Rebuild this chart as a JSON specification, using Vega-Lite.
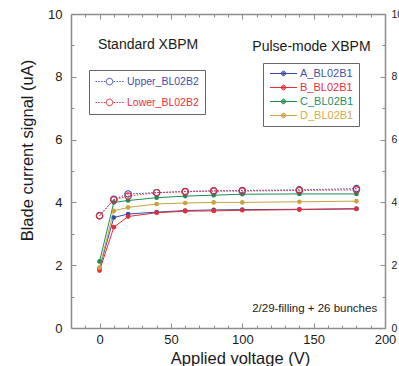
{
  "$schema": "https://vega.github.io/schema/vega-lite/v6.json",
  "width": 314,
  "height": 314,
  "autosize": "none",
  "padding": {"left": 71, "top": 14, "right": 14, "bottom": 38},
  "background": "white",
  "config": {
    "view": {"stroke": null},
    "font": "Liberation Sans",
    "axis": {
      "grid": false,
      "domainColor": "#8c8c8c",
      "domainWidth": 1.5,
      "tickColor": "#8c8c8c",
      "tickWidth": 1,
      "tickSize": -5,
      "labelFont": "Liberation Sans",
      "titleFont": "Liberation Sans",
      "labelColor": "#1a1a1a",
      "titleColor": "#1a1a1a",
      "titleFontWeight": "normal",
      "labelOverlap": false,
      "labelFlush": false,
      "labelBound": false
    },
    "legend": {
      "labelFont": "Liberation Sans",
      "labelFontSize": 11,
      "strokeColor": "#666666",
      "padding": 5,
      "labelOffset": 21,
      "symbolStrokeWidth": 1,
      "symbolSize": 100
    }
  },
  "datasets": {
    "pulse": [
      {"series": "A_BL02B1", "x": 0, "y": 1.9},
      {"series": "A_BL02B1", "x": 10, "y": 3.52},
      {"series": "A_BL02B1", "x": 20, "y": 3.63},
      {"series": "A_BL02B1", "x": 40, "y": 3.69},
      {"series": "A_BL02B1", "x": 60, "y": 3.74},
      {"series": "A_BL02B1", "x": 80, "y": 3.76},
      {"series": "A_BL02B1", "x": 100, "y": 3.77},
      {"series": "A_BL02B1", "x": 140, "y": 3.78},
      {"series": "A_BL02B1", "x": 180, "y": 3.8},
      {"series": "B_BL02B1", "x": 0, "y": 1.83},
      {"series": "B_BL02B1", "x": 10, "y": 3.21},
      {"series": "B_BL02B1", "x": 20, "y": 3.55},
      {"series": "B_BL02B1", "x": 40, "y": 3.67},
      {"series": "B_BL02B1", "x": 60, "y": 3.72},
      {"series": "B_BL02B1", "x": 80, "y": 3.73},
      {"series": "B_BL02B1", "x": 100, "y": 3.75},
      {"series": "B_BL02B1", "x": 140, "y": 3.77},
      {"series": "B_BL02B1", "x": 180, "y": 3.79},
      {"series": "C_BL02B1", "x": 0, "y": 2.12},
      {"series": "C_BL02B1", "x": 10, "y": 4.0},
      {"series": "C_BL02B1", "x": 20, "y": 4.06},
      {"series": "C_BL02B1", "x": 40, "y": 4.15},
      {"series": "C_BL02B1", "x": 60, "y": 4.2},
      {"series": "C_BL02B1", "x": 80, "y": 4.23},
      {"series": "C_BL02B1", "x": 100, "y": 4.26},
      {"series": "C_BL02B1", "x": 140, "y": 4.27},
      {"series": "C_BL02B1", "x": 180, "y": 4.27},
      {"series": "D_BL02B1", "x": 0, "y": 1.92},
      {"series": "D_BL02B1", "x": 10, "y": 3.73},
      {"series": "D_BL02B1", "x": 20, "y": 3.84},
      {"series": "D_BL02B1", "x": 40, "y": 3.95},
      {"series": "D_BL02B1", "x": 60, "y": 3.98},
      {"series": "D_BL02B1", "x": 80, "y": 4.0},
      {"series": "D_BL02B1", "x": 100, "y": 4.0},
      {"series": "D_BL02B1", "x": 140, "y": 4.02},
      {"series": "D_BL02B1", "x": 180, "y": 4.04}
    ],
    "standard": [
      {"series": "Upper_BL02B2", "x": 0, "y": 3.58},
      {"series": "Upper_BL02B2", "x": 10, "y": 4.1},
      {"series": "Upper_BL02B2", "x": 20, "y": 4.27},
      {"series": "Upper_BL02B2", "x": 40, "y": 4.31},
      {"series": "Upper_BL02B2", "x": 60, "y": 4.35},
      {"series": "Upper_BL02B2", "x": 80, "y": 4.37},
      {"series": "Upper_BL02B2", "x": 100, "y": 4.38},
      {"series": "Upper_BL02B2", "x": 140, "y": 4.4},
      {"series": "Upper_BL02B2", "x": 180, "y": 4.44},
      {"series": "Lower_BL02B2", "x": 0, "y": 3.57},
      {"series": "Lower_BL02B2", "x": 10, "y": 4.08},
      {"series": "Lower_BL02B2", "x": 20, "y": 4.2},
      {"series": "Lower_BL02B2", "x": 40, "y": 4.31},
      {"series": "Lower_BL02B2", "x": 60, "y": 4.34},
      {"series": "Lower_BL02B2", "x": 80, "y": 4.36},
      {"series": "Lower_BL02B2", "x": 100, "y": 4.36},
      {"series": "Lower_BL02B2", "x": 140, "y": 4.38},
      {"series": "Lower_BL02B2", "x": 180, "y": 4.4}
    ]
  },
  "layer": [
    {
      "data": {"name": "pulse"},
      "mark": {"type": "line", "strokeWidth": 1},
      "encoding": {
        "x": {
          "field": "x", "type": "quantitative",
          "scale": {"domain": [-20, 200], "nice": false, "zero": false},
          "axis": {
            "orient": "bottom",
            "title": "Applied voltage (V)",
            "values": [-10, 0, 10, 20, 30, 40, 50, 60, 70, 80, 90, 100, 110, 120, 130, 140, 150, 160, 170, 180, 190, 200],
            "format": "d",
            "labelExpr": "datum.value % 50 === 0 ? datum.label : ''",
            "tickDash": {"condition": {"test": "datum.value % 50 === 0", "value": [10, 0]}, "value": [3, 10]},
            "labelFontSize": 13,
            "labelPadding": 10,
            "titleFontSize": 16.5,
            "titleX": 169,
            "titleY": 30,
            "titleAlign": "center",
            "titleBaseline": "middle"
          }
        },
        "y": {
          "field": "y", "type": "quantitative",
          "scale": {"domain": [0, 10], "nice": false},
          "axis": {
            "orient": "left",
            "title": "Blade current signal (uA)",
            "values": [0, 0.5, 1, 1.5, 2, 2.5, 3, 3.5, 4, 4.5, 5, 5.5, 6, 6.5, 7, 7.5, 8, 8.5, 9, 9.5, 10],
            "format": "d",
            "labelExpr": "datum.value % 2 === 0 ? datum.label : ''",
            "tickDash": {"condition": {"test": "datum.value % 2 === 0", "value": [10, 0]}, "value": [3, 10]},
            "labelFontSize": 13,
            "labelPadding": 14,
            "labelBaseline": "middle",
            "titleFontSize": 16.5,
            "titleAngle": -90,
            "titleX": -44,
            "titleY": 136,
            "titleAlign": "center",
            "titleBaseline": "middle"
          }
        },
        "detail": {"field": "series"},
        "color": {
          "field": "series", "type": "nominal",
          "scale": {
            "domain": ["A_BL02B1", "B_BL02B1", "C_BL02B1", "D_BL02B1"],
            "range": ["#3a49a6", "#e62c36", "#1c8c52", "#c9a23e"]
          },
          "legend": {
            "orient": "none",
            "legendX": 192,
            "legendY": 49,
            "title": null,
            "symbolType": "M-0.7,0L4.7,0M1.86,0A0.14,0.14,0,1,1,2.14,0A0.14,0.14,0,1,1,1.86,0M1.7,0A0.3,0.3,0,1,1,2.3,0A0.3,0.3,0,1,1,1.7,0M1.54,0A0.46,0.46,0,1,1,2.46,0A0.46,0.46,0,1,1,1.54,0",
            "rowPadding": 2,
            "labelExpr": "datum.label + '\u00a0\u00a0\u00a0\u00a0'",
            "labelColor": {"expr": "datum.value == 'A_BL02B1' ? '#4452a8' : datum.value == 'B_BL02B1' ? '#e8303a' : datum.value == 'C_BL02B1' ? '#1f9064' : '#d4ac48'"}
          }
        }
      }
    },
    {
      "data": {"name": "pulse"},
      "mark": {"type": "point", "filled": true, "size": 22, "opacity": 1},
      "encoding": {
        "x": {"field": "x", "type": "quantitative", "axis": null},
        "y": {"field": "y", "type": "quantitative", "axis": null},
        "color": {
          "field": "series", "type": "nominal",
          "scale": {
            "domain": ["A_BL02B1", "B_BL02B1", "C_BL02B1", "D_BL02B1"],
            "range": ["#3a49a6", "#e62c36", "#1c8c52", "#c9a23e"]
          },
          "legend": null
        }
      }
    },
    {
      "data": {"name": "standard"},
      "mark": {"type": "line", "strokeWidth": 1, "strokeDash": [1.5, 1.5]},
      "encoding": {
        "x": {
          "field": "x", "type": "quantitative",
          "axis": {
            "orient": "top",
            "title": null,
            "labels": false,
            "values": [-10, 0, 10, 20, 30, 40, 50, 60, 70, 80, 90, 100, 110, 120, 130, 140, 150, 160, 170, 180, 190, 200],
            "tickDash": {"condition": {"test": "datum.value % 50 === 0", "value": [10, 0]}, "value": [3, 10]}
          }
        },
        "y": {
          "field": "y", "type": "quantitative",
          "axis": {
            "orient": "right",
            "title": null,
            "values": [0, 0.5, 1, 1.5, 2, 2.5, 3, 3.5, 4, 4.5, 5, 5.5, 6, 6.5, 7, 7.5, 8, 8.5, 9, 9.5, 10],
            "format": "d",
            "labelExpr": "datum.value % 2 === 0 ? datum.label : ''",
            "tickDash": {"condition": {"test": "datum.value % 2 === 0", "value": [10, 0]}, "value": [3, 10]},
            "labelFontSize": 10.5,
            "labelPadding": 11,
            "labelBaseline": "middle"
          }
        },
        "detail": {"field": "series"},
        "color": {
          "field": "series", "type": "nominal",
          "scale": {
            "domain": ["Upper_BL02B2", "Lower_BL02B2"],
            "range": ["#3f4fb0", "#e22c3a"]
          },
          "legend": {
            "orient": "none",
            "legendX": 18,
            "legendY": 56,
            "title": null,
            "symbolType": "M-1,0h0.28M-0.44,0h0.28M0.12,0h0.28M0.68,0h0.28M2.64,0h0.28M3.2,0h0.28M3.76,0h0.28M4.32,0h0.28M1.14,0A0.66,0.66,0,1,1,2.46,0A0.66,0.66,0,1,1,1.14,0",
            "rowPadding": 10,
            "labelFontSize": 10.5,
            "padding": 6,
            "labelColor": {"expr": "datum.value == 'Upper_BL02B2' ? '#3f4fb0' : '#e8303a'"}
          }
        }
      }
    },
    {
      "data": {"name": "standard"},
      "mark": {"type": "point", "filled": false, "size": 40, "strokeWidth": 1.2, "opacity": 1},
      "encoding": {
        "x": {"field": "x", "type": "quantitative", "axis": null},
        "y": {"field": "y", "type": "quantitative", "axis": null},
        "color": {
          "field": "series", "type": "nominal",
          "scale": {
            "domain": ["Upper_BL02B2", "Lower_BL02B2"],
            "range": ["#3f4fb0", "#e22c3a"]
          },
          "legend": null
        }
      }
    },
    {
      "data": {"values": [{}]},
      "mark": {"type": "text", "text": "Standard XBPM", "fontSize": 14, "font": "Liberation Sans", "color": "#1a1a1a", "align": "center", "baseline": "middle"},
      "encoding": {
        "x": {"datum": 34, "type": "quantitative", "axis": null},
        "y": {"datum": 9.0, "type": "quantitative", "axis": null}
      }
    },
    {
      "data": {"values": [{}]},
      "mark": {"type": "text", "text": "Pulse-mode XBPM", "fontSize": 14, "font": "Liberation Sans", "color": "#1a1a1a", "align": "center", "baseline": "middle"},
      "encoding": {
        "x": {"datum": 148.5, "type": "quantitative", "axis": null},
        "y": {"datum": 8.95, "type": "quantitative", "axis": null}
      }
    },
    {
      "data": {"values": [{}]},
      "mark": {"type": "text", "text": "2/29-filling + 26 bunches", "fontSize": 11.5, "font": "Liberation Sans", "color": "#1a1a1a", "align": "right", "baseline": "middle"},
      "encoding": {
        "x": {"datum": 194.5, "type": "quantitative", "axis": null},
        "y": {"datum": 0.6, "type": "quantitative", "axis": null}
      }
    }
  ],
  "resolve": {
    "scale": {"color": "independent"},
    "axis": {"x": "independent", "y": "independent"}
  }
}
